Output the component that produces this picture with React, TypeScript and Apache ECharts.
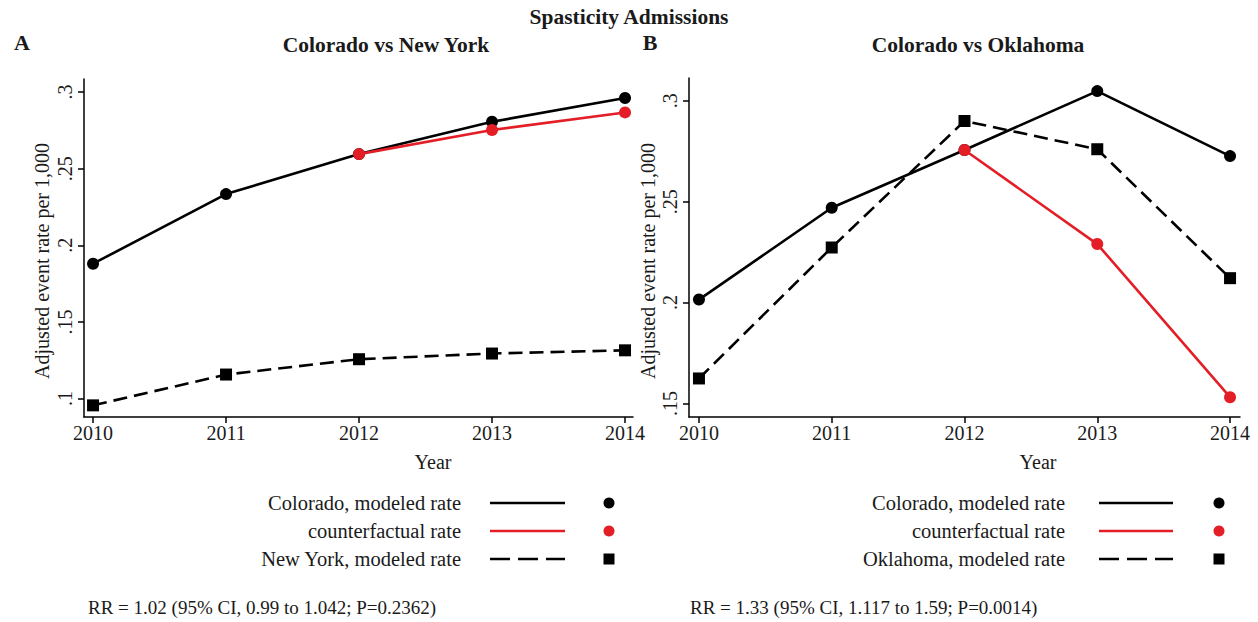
import React, { useEffect, useRef } from "react";
import * as echarts from "echarts";

// Years on the horizontal axis
const years = [2010, 2011, 2012, 2013, 2014];

// Panel A: Colorado vs New York (adjusted event rate per 1,000)
const coloradoA = [0.188, 0.2334, 0.2595, 0.2806, 0.2961];
const counterfactualA = [null, null, 0.2595, 0.2752, 0.2867];
const newYork = [0.0956, 0.1157, 0.1257, 0.1294, 0.1315];

// Panel B: Colorado vs Oklahoma
const coloradoB = [0.2015, 0.247, 0.2756, 0.3048, 0.2726];
const counterfactualB = [null, null, 0.2756, 0.229, 0.1531];
const oklahoma = [0.1624, 0.2273, 0.29, 0.276, 0.2121];

// Tick labels
const yTicksA = [0.1, 0.15, 0.2, 0.25, 0.3];
const yTicksB = [0.15, 0.2, 0.25, 0.3];

const legendA = ["Colorado, modeled rate", "counterfactual rate", "New York, modeled rate"];
const legendB = ["Colorado, modeled rate", "counterfactual rate", "Oklahoma, modeled rate"];

const footA = "RR = 1.02 (95% CI, 0.99 to 1.042; P=0.2362)";
const footB = "RR = 1.33 (95% CI, 1.117 to 1.59; P=0.0014)";

const SERIF = '"Liberation Serif", "Times New Roman", serif';
const BLACK = "#000000";
const TEXT = "#1a1a1a";
const RED = "#e41e26";
const DASH = [14, 7];

const pairs = (vals: (number | null)[]) =>
  years.map((y, i) => [y, vals[i]]).filter((p) => p[1] !== null);

function xAxisCfg(gridIndex: number, min: number, max: number) {
  return {
    type: "value",
    gridIndex,
    min,
    max,
    axisLine: { show: true, onZero: false, lineStyle: { color: BLACK, width: 1.5 } },
    axisTick: { show: true, customValues: years, length: 6, lineStyle: { color: BLACK, width: 1.5 } },
    axisLabel: {
      customValues: years,
      formatter: (v: number) => String(v),
      color: TEXT,
      fontSize: 20,
      fontFamily: SERIF,
      margin: 6,
    },
    splitLine: { show: false },
  };
}

function yAxisCfg(gridIndex: number, min: number, max: number, ticks: number[]) {
  return {
    type: "value",
    gridIndex,
    min,
    max,
    axisLine: { show: true, onZero: false, lineStyle: { color: BLACK, width: 1.5 } },
    axisTick: { show: true, customValues: ticks, length: 6, lineStyle: { color: BLACK, width: 1.5 } },
    axisLabel: {
      customValues: ticks,
      formatter: (v: number) => String(+v.toFixed(3)).replace(/^0/, ""),
      rotate: 90,
      color: TEXT,
      fontSize: 20,
      fontFamily: SERIF,
      margin: 9,
    },
    splitLine: { show: false },
  };
}

function lineSeries(
  idx: number,
  vals: (number | null)[],
  color: string,
  dashed: boolean,
  symbol: string
) {
  return {
    type: "line",
    xAxisIndex: idx,
    yAxisIndex: idx,
    data: pairs(vals),
    symbol,
    symbolSize: 12,
    showSymbol: true,
    itemStyle: { color, borderWidth: 0 },
    lineStyle: { color, width: 2.6, type: dashed ? DASH : "solid" },
    z: color === RED ? 3 : 2,
  };
}

function legendBlock(labels: string[], textRight: number, lineX1: number, lineX2: number, markX: number) {
  const ys = [503, 531, 559];
  const els: any[] = [];
  const colors = [BLACK, RED, BLACK];
  labels.forEach((t, i) => {
    els.push({
      type: "text",
      x: textRight,
      y: ys[i],
      style: { text: t, fill: TEXT, font: `20.5px ${SERIF}`, align: "right", verticalAlign: "middle" },
    });
    els.push({
      type: "line",
      shape: { x1: lineX1, y1: ys[i], x2: lineX2, y2: ys[i] },
      style: { stroke: colors[i], lineWidth: 2.6, lineDash: i === 2 ? [20, 8] : null },
    });
    if (i < 2) {
      els.push({ type: "circle", shape: { cx: markX, cy: ys[i], r: 5.5 }, style: { fill: colors[i] } });
    } else {
      els.push({ type: "rect", shape: { x: markX - 5.5, y: ys[i] - 5.5, width: 11, height: 11 }, style: { fill: BLACK } });
    }
  });
  return els;
}

function txt(text: string, x: number, y: number, font: string, align = "center", rotation = 0) {
  return {
    type: "text",
    x,
    y,
    rotation,
    style: { text, fill: TEXT, font, align, verticalAlign: "middle" },
  };
}

export default function App() {
  const ref = useRef<HTMLDivElement>(null);

  useEffect(() => {
    if (!ref.current) return;
    const chart = echarts.init(ref.current, null, { renderer: "svg" });

    const option: any = {
      animation: false,
      backgroundColor: "#ffffff",
      grid: [
        { left: 84, top: 79, width: 549, height: 338 },
        { left: 689, top: 78, width: 551, height: 339 },
      ],
      xAxis: [xAxisCfg(0, 2009.932, 2014.06), xAxisCfg(1, 2009.925, 2014.075)],
      yAxis: [yAxisCfg(0, 0.088, 0.3085, yTicksA), yAxisCfg(1, 0.1433, 0.3113, yTicksB)],
      series: [
        lineSeries(0, coloradoA, BLACK, false, "circle"),
        lineSeries(0, newYork, BLACK, true, "rect"),
        lineSeries(0, counterfactualA, RED, false, "circle"),
        lineSeries(1, coloradoB, BLACK, false, "circle"),
        lineSeries(1, oklahoma, BLACK, true, "rect"),
        lineSeries(1, counterfactualB, RED, false, "circle"),
      ],
      graphic: [
        txt("Spasticity Admissions", 629, 17, `bold 21.5px ${SERIF}`),
        txt("A", 22, 42, `bold 22px ${SERIF}`),
        txt("B", 650, 42, `bold 22px ${SERIF}`),
        txt("Colorado vs New York", 386, 45, `bold 21.5px ${SERIF}`),
        txt("Colorado vs Oklahoma", 978, 45, `bold 21.5px ${SERIF}`),
        txt("Adjusted event rate per 1,000", 42, 261, `20px ${SERIF}`, "center", Math.PI / 2),
        txt("Adjusted event rate per 1,000", 648, 261, `20px ${SERIF}`, "center", Math.PI / 2),
        txt("Year", 433, 462, `20px ${SERIF}`),
        txt("Year", 1038, 462, `20px ${SERIF}`),
        ...legendBlock(legendA, 461, 490, 565, 609),
        ...legendBlock(legendB, 1065, 1099, 1173, 1219),
        txt(footA, 88, 607, `19px ${SERIF}`, "left"),
        txt(footB, 690, 607, `19px ${SERIF}`, "left"),
      ],
    };

    chart.setOption(option);
    return () => chart.dispose();
  }, []);

  return (
    <div
      ref={ref}
      style={{ position: "fixed", left: 0, top: 0, width: 1258, height: 622, background: "#fff" }}
    />
  );
}
